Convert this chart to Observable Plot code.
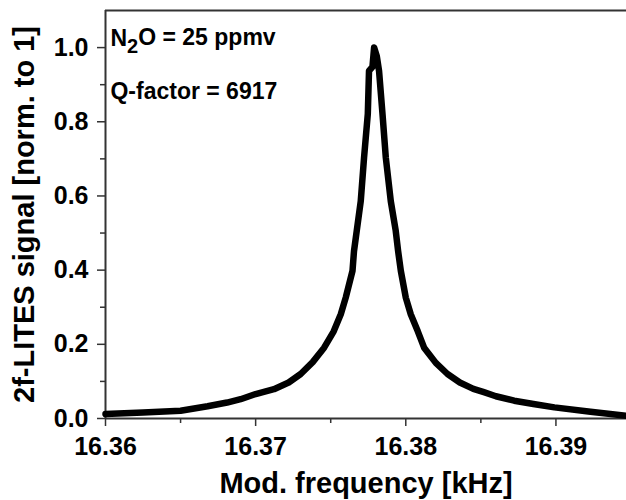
<!DOCTYPE html>
<html>
<head>
<meta charset="utf-8">
<script src="https://cdn.jsdelivr.net/npm/d3@7"></script>
<script src="https://cdn.jsdelivr.net/npm/@observablehq/plot@0.6"></script>
<style>
  html, body { margin: 0; padding: 0; background: #fff; }
  svg { display: block; }
</style>
</head>
<body>
<div id="chart"></div>
<script>
// Modulation frequency [kHz]
const freq = [16.3600, 16.3625, 16.3650, 16.3668, 16.3681, 16.3690, 16.3700, 16.37122, 16.3722, 16.3730,
  16.3738, 16.37456, 16.3752, 16.37567, 16.3760, 16.37645, 16.37655, 16.3770, 16.37722, 16.37747,
  16.37755, 16.37778, 16.37789, 16.37807, 16.37822, 16.37845, 16.37867, 16.3790, 16.37933, 16.37949,
  16.37967, 16.3800, 16.38033, 16.3808, 16.38122, 16.3820, 16.38278, 16.3836, 16.3845, 16.3852,
  16.3860, 16.38722, 16.3885, 16.3899, 16.3923, 16.3947];
// 2f-LITES signal normalised to 1
const signal = [0.012, 0.016, 0.021, 0.033, 0.043, 0.052, 0.066, 0.079, 0.097, 0.120,
  0.152, 0.191, 0.235, 0.281, 0.326, 0.398, 0.451, 0.586, 0.703, 0.821,
  0.937, 0.948, 1.000, 0.977, 0.937, 0.820, 0.703, 0.586, 0.506, 0.451,
  0.398, 0.326, 0.281, 0.235, 0.191, 0.150, 0.120, 0.097, 0.080, 0.071,
  0.060, 0.048, 0.039, 0.030, 0.018, 0.007];

const xDomain = [16.36, 16.3947];
const yDomain = [0, 1.1];
const xTicks = [16.36, 16.37, 16.38, 16.39];
const xMinorTicks = [16.365, 16.375, 16.385];
const yTicks = [0, 0.2, 0.4, 0.6, 0.8, 1.0];
const yMinorTicks = [0.1, 0.3, 0.5, 0.7, 0.9];
const xTitle = "Mod. frequency [kHz]";
const yTitle = "2f-LITES signal [norm. to 1]";
const notes = [
  {x: 16.36033, y: 1.003, text: "N2O = 25 ppmv"},
  {x: 16.36033, y: 0.862, text: "Q-factor = 6917"}
];

const data = freq.map((f, i) => ({f, v: signal[i]}));
const axisColor = "#333";
const font = "Liberation Sans, Arial, sans-serif";

const chart = Plot.plot({
  width: 626,
  height: 500,
  marginLeft: 105,
  marginRight: 0,
  marginTop: 10,
  marginBottom: 82,
  style: {fontFamily: font, fontWeight: "bold", background: "#fff", color: "#000"},
  x: {domain: xDomain},
  y: {domain: yDomain},
  marks: [
    Plot.ruleY([yDomain[1]], {stroke: axisColor, strokeWidth: 2}),
    Plot.ruleX([xDomain[0]], {stroke: axisColor, strokeWidth: 2}),
    Plot.ruleY([yDomain[0]], {stroke: axisColor, strokeWidth: 2}),
    Plot.axisX({ticks: xTicks, tickFormat: d3.format(".2f"), tickSize: 8, tickPadding: 11,
      fontSize: 25, fontWeight: "bold", stroke: axisColor, strokeWidth: 1.5, strokeOpacity: 1, label: null}),
    Plot.axisX({ticks: xMinorTicks, tickFormat: () => "", tickSize: 5,
      stroke: axisColor, strokeWidth: 1.5, strokeOpacity: 1, label: null}),
    Plot.axisY({ticks: yTicks, tickFormat: d3.format(".1f"), tickSize: 8, tickPadding: 9,
      fontSize: 25, fontWeight: "bold", stroke: axisColor, strokeWidth: 1.5, strokeOpacity: 1, label: null}),
    Plot.axisY({ticks: yMinorTicks, tickFormat: () => "", tickSize: 5,
      stroke: axisColor, strokeWidth: 1.5, strokeOpacity: 1, label: null}),
    Plot.line(data, {x: "f", y: "v", stroke: "#000", strokeWidth: 6.5,
      strokeLinejoin: "round", strokeLinecap: "round"}),
    Plot.text(notes, {x: "x", y: "y", text: "text", textAnchor: "start", lineAnchor: "bottom",
      fontSize: 23, fontWeight: "bold", fill: "#000", className: "notes"}),
    Plot.text([xTitle], {frameAnchor: "bottom", textAnchor: "middle", lineAnchor: "bottom", dy: 74,
      fontSize: 29, fontWeight: "bold", fill: "#000"}),
    Plot.text([yTitle], {frameAnchor: "left", textAnchor: "middle", rotate: -90, lineAnchor: "bottom", dx: -72,
      fontSize: 29, fontWeight: "bold", fill: "#000"})
  ]
});

// Render the "2" of N2O as a subscript
d3.select(chart).selectAll("g.notes text").each(function() {
  const t = d3.select(this);
  const s = t.text();
  if (s.startsWith("N2O")) {
    t.text(null);
    t.append("tspan").text("N");
    t.append("tspan").attr("dy", "0.35em").attr("font-size", "20").text("2");
    t.append("tspan").attr("dy", "-0.35em").text(s.slice(2));
  }
});

document.getElementById("chart").appendChild(chart);
</script>
</body>
</html>
